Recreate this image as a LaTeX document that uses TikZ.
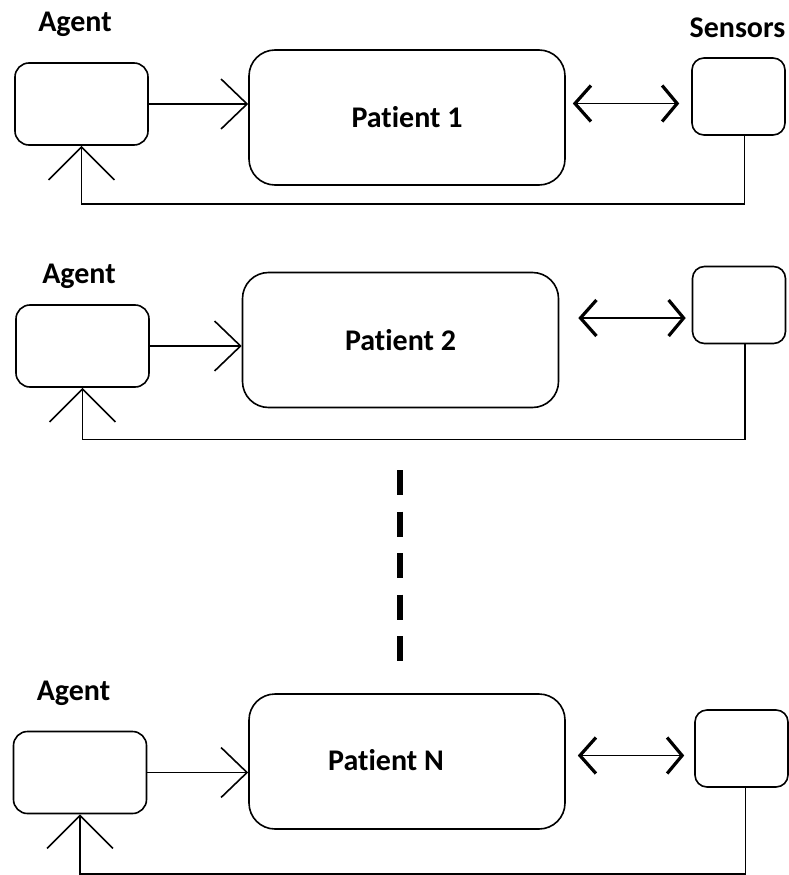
\documentclass[tikz,border=0pt]{standalone}
\usepackage{fontspec}
\setmainfont{Carlito}[Ligatures={NoCommon,NoContextual,NoRequired}, RawFeature={-liga;-clig;-calt}]
\usetikzlibrary{arrows.meta, positioning, calc}
\tikzset{
    agent/.style={rectangle, rounded corners=14pt, minimum width=133pt, minimum height=82pt, draw=black, line width=1.6pt},
    patient/.style={rectangle, rounded corners=26pt, minimum width=316pt, minimum height=135pt, draw=black, line width=1.6pt, font=\bfseries\fontsize{30}{32}\selectfont},
    sensor/.style={rectangle, rounded corners=12pt, minimum width=93pt, minimum height=77pt, draw=black, line width=1.6pt},
    tag/.style={inner sep=0pt, font=\bfseries\fontsize{30}{32}\selectfont},
    act/.style={line width=1.6pt, -{Straight Barb[length=26pt, width=50pt]}},
    feed/.style={line width=1.6pt, -{Straight Barb[length=33pt, width=66pt]}},
    link/.style={line width=1.6pt, {Straight Barb[length=16pt, width=36pt, line width=3.2pt]}-{Straight Barb[length=15pt, width=36pt, line width=3.2pt]}},
    more/.style={line width=6pt, dash pattern=on 25pt off 16.5pt}
}

\begin{document}
\begin{tikzpicture}[x=1pt, y=-1pt]
\useasboundingbox (0,0) rectangle (788,875);

% Row 1
\node (agent1) [agent] at (81.5,104) {};
\node (patient1) [patient] at (407,117.5) {Patient 1};
\node (sensors1) [sensor] at (738.5,96.5) {};
\node (agentTag1) [tag] at (75,24) {Agent};
\node (sensorsTag) [tag] at (737.5,28) {Sensors};
\coordinate (lnk1) at ([yshift=-7pt]sensors1.west);

% Row 2
\node (agent2) [agent] at (82.5,346) {};
\node (patient2) [patient] at (400.5,340) {Patient 2};
\node (sensors2) [sensor] at (739,305) {};
\node (agentTag2) [tag] at (79,276) {Agent};
\coordinate (lnk2) at ([yshift=-13pt]sensors2.west);

% Row N
\node (agent3) [agent] at (80,772.5) {};
\node (patientN) [patient] at (407,761.5) {};
\node (patientNTag) [tag] at (386,760) {Patient N};
\node (sensors3) [sensor] at (741.5,748.5) {};
\node (agentTag3) [tag] at (73.5,693) {Agent};
\coordinate (lnk3) at ([yshift=-7pt]sensors3.west);

% Gap between the rows
\coordinate (moreTop) at (400,470);
\coordinate (moreBot) at (400,662);
\draw [more] (moreTop) -- (moreBot);

% Arrows
\draw [act] (agent1.east) -- (agent1.east -| patient1.west);
\draw [link, shorten <=7pt, shorten >=12pt] (patient1.east |- lnk1) -- (lnk1);
\draw [feed] ([xshift=6pt]sensors1.south) -- ++(0,68) -| (agent1.south);

\draw [act] (agent2.east) -- (agent2.east -| patient2.west);
\draw [link, shorten <=19pt, shorten >=6pt] (patient2.east |- lnk2) -- (lnk2);
\draw [feed] ([xshift=6pt]sensors2.south) -- ++(0,95) -| (agent2.south);

\draw [act] (agent3.east) -- (agent3.east -| patientN.west);
\draw [link, shorten <=12pt, shorten >=10pt] (patientN.east |- lnk3) -- (lnk3);
\draw [feed] ([xshift=4pt]sensors3.south) -- ++(0,86) -| (agent3.south);

\end{tikzpicture}
\end{document}
